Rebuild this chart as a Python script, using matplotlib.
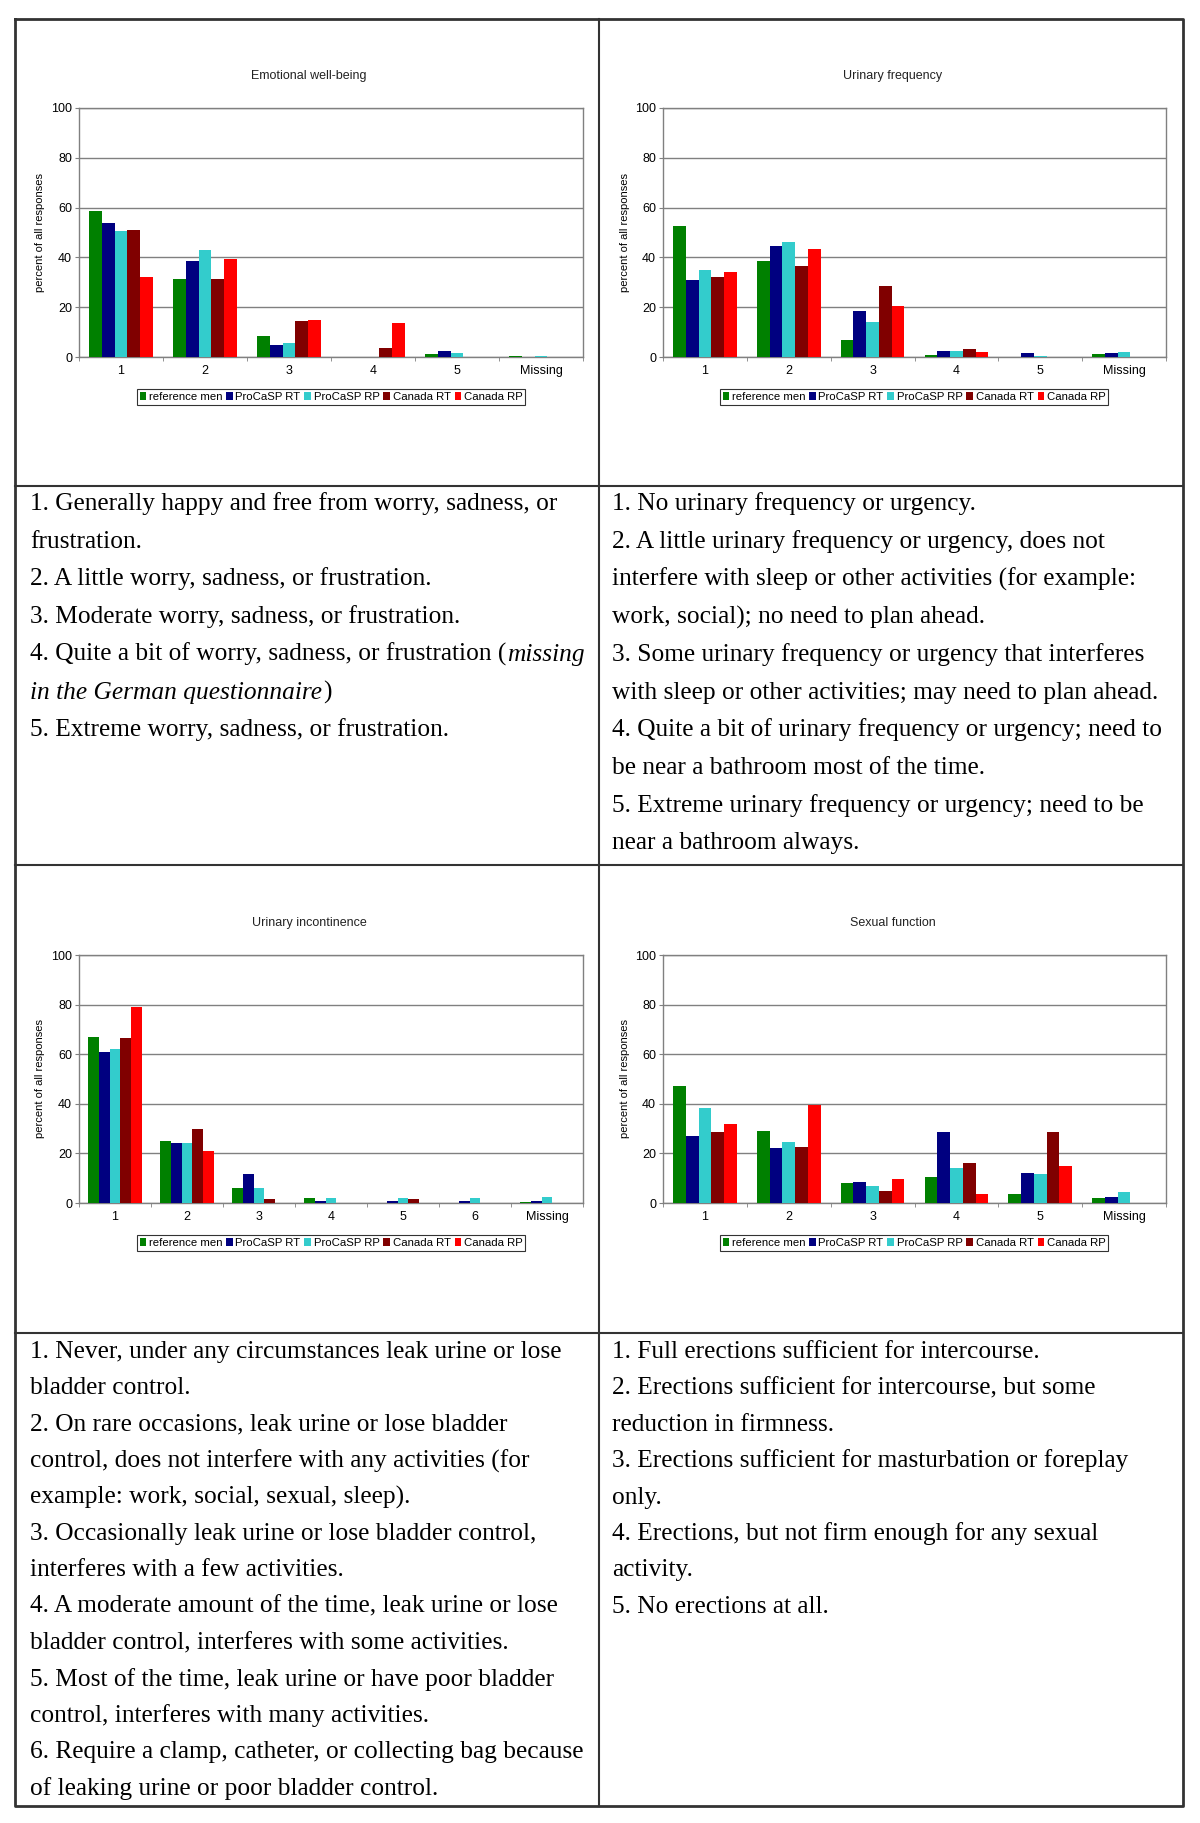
import matplotlib
matplotlib.use("Agg")
import matplotlib.pyplot as plt
import numpy as np

W, H = 1200, 1823

series = ["reference men", "ProCaSP RT", "ProCaSP RP", "Canada RT", "Canada RP"]
colors = ["#008000", "#000080", "#33CCCC", "#800000", "#FF0000"]

# Emotional well-being
emo_cats = ["1", "2", "3", "4", "5", "Missing"]
emo_ref = [58.5, 31.5, 8.5, 0, 1.2, 0.4]
emo_prt = [54, 38.5, 5, 0, 2.5, 0]
emo_prp = [50.5, 43, 5.5, 0, 1.5, 0.3]
emo_crt = [51, 31.5, 14.5, 3.5, 0, 0]
emo_crp = [32, 39.5, 15, 13.5, 0, 0]

# Urinary frequency
freq_cats = ["1", "2", "3", "4", "5", "Missing"]
freq_ref = [52.5, 38.5, 7, 0.7, 0, 1.1]
freq_prt = [31, 44.5, 18.5, 2.4, 1.7, 1.6]
freq_prp = [35, 46, 14, 2.3, 0.4, 2.2]
freq_crt = [32, 36.5, 28.5, 3.3, 0, 0]
freq_crp = [34, 43.5, 20.5, 1.9, 0, 0]

# Urinary incontinence
inc_cats = ["1", "2", "3", "4", "5", "6", "Missing"]
inc_ref = [67, 25, 6, 2, 0.2, 0, 0.3]
inc_prt = [61, 24, 11.5, 0.7, 0.7, 0.7, 0.7]
inc_prp = [62, 24, 6, 2.2, 2, 2, 2.5]
inc_crt = [66.5, 30, 1.5, 0, 1.5, 0, 0]
inc_crp = [79, 21, 0, 0, 0, 0, 0]

# Sexual function
sex_cats = ["1", "2", "3", "4", "5", "Missing"]
sex_ref = [47, 29, 8, 10.5, 3.8, 2]
sex_prt = [27, 22, 8.5, 28.5, 12, 2.5]
sex_prp = [38.5, 24.5, 7, 14, 11.5, 4.5]
sex_crt = [28.5, 22.5, 5, 16, 28.5, 0]
sex_crp = [32, 39.5, 9.5, 3.8, 15, 0]

emo_text = [
    "1. Generally happy and free from worry, sadness, or",
    "frustration.",
    "2. A little worry, sadness, or frustration.",
    "3. Moderate worry, sadness, or frustration.",
    "4. Quite a bit of worry, sadness, or frustration (",
    "",
    "5. Extreme worry, sadness, or frustration.",
]
freq_text = [
    "1. No urinary frequency or urgency.",
    "2. A little urinary frequency or urgency, does not",
    "interfere with sleep or other activities (for example:",
    "work, social); no need to plan ahead.",
    "3. Some urinary frequency or urgency that interferes",
    "with sleep or other activities; may need to plan ahead.",
    "4. Quite a bit of urinary frequency or urgency; need to",
    "be near a bathroom most of the time.",
    "5. Extreme urinary frequency or urgency; need to be",
    "near a bathroom always.",
]
inc_text = [
    "1. Never, under any circumstances leak urine or lose",
    "bladder control.",
    "2. On rare occasions, leak urine or lose bladder",
    "control, does not interfere with any activities (for",
    "example: work, social, sexual, sleep).",
    "3. Occasionally leak urine or lose bladder control,",
    "interferes with a few activities.",
    "4. A moderate amount of the time, leak urine or lose",
    "bladder control, interferes with some activities.",
    "5. Most of the time, leak urine or have poor bladder",
    "control, interferes with many activities.",
    "6. Require a clamp, catheter, or collecting bag because",
    "of leaking urine or poor bladder control.",
]
sex_text = [
    "1. Full erections sufficient for intercourse.",
    "2. Erections sufficient for intercourse, but some",
    "reduction in firmness.",
    "3. Erections sufficient for masturbation or foreplay",
    "only.",
    "4. Erections, but not firm enough for any sexual",
    "activity.",
    "5. No erections at all.",
]

fig = plt.figure(figsize=(W / 100, H / 100), dpi=100)
bg = fig.add_axes([0, 0, 1, 1])
bg.set_xlim(0, W)
bg.set_ylim(H, 0)
bg.axis("off")

# table lines
lc = "#333333"
bg.plot([15, 1183, 1183, 15, 15], [19, 19, 1806, 1806, 19], color=lc, lw=2)
bg.plot([599, 599], [19, 1806], color=lc, lw=1.5)
for yy in [486, 865, 1333]:
    bg.plot([15, 1183], [yy, yy], color=lc, lw=1.5)

cfont = "Liberation Sans"


def bar_chart(box, title, cats, data, leg_center):
    l, t, r, b = box
    ax = fig.add_axes([l / W, 1 - b / H, (r - l) / W, (b - t) / H])
    n = len(cats)
    x = np.arange(n)
    bw = 0.76 / 5
    for i, (vals, c) in enumerate(zip(data, colors)):
        ax.bar(x + (i - 2) * bw, vals, width=bw, color=c, label=series[i],
               edgecolor="none", zorder=3)
    ax.set_xlim(-0.5, n - 0.5)
    ax.set_ylim(0, 100)
    ax.set_yticks(range(0, 101, 20))
    ax.yaxis.grid(True, color="#808080", lw=1, zorder=0)
    ax.set_xticks(x)
    ax.set_xticklabels(cats, fontsize=9, family=cfont)
    ax.set_xticks(np.arange(-0.5, n, 1), minor=True)
    ax.tick_params(axis="x", which="major", length=0, pad=6)
    ax.tick_params(axis="x", which="minor", length=3, color="#808080", direction="out")
    ax.tick_params(axis="y", length=3, color="#808080", pad=2, labelsize=9)
    for lab in ax.get_yticklabels():
        lab.set_family(cfont)
    for sp in ax.spines.values():
        sp.set_color("#808080")
        sp.set_linewidth(1)
    ax.set_ylabel("percent of all responses", fontsize=8, family=cfont, labelpad=4)
    bg.text((l + r) / 2 - 22, t - 32, title, ha="center", va="center",
            fontsize=9, family=cfont, color="#222222")
    leg = ax.legend(loc="center", bbox_to_anchor=(leg_center[0] / W, 1 - leg_center[1] / H),
                    bbox_transform=fig.transFigure, ncol=5,
                    handlelength=0.6, handleheight=0.6, handletextpad=0.2,
                    columnspacing=0.35, borderpad=0.25, fancybox=False,
                    frameon=True, edgecolor="black", borderaxespad=0,
                    prop={"family": cfont, "size": 8.2})
    leg.get_frame().set_linewidth(0.8)
    return ax


bar_chart((79, 108, 583, 357), "Emotional well-being", emo_cats,
          [emo_ref, emo_prt, emo_prp, emo_crt, emo_crp], (331, 397))
bar_chart((663, 108, 1166, 357), "Urinary frequency", freq_cats,
          [freq_ref, freq_prt, freq_prp, freq_crt, freq_crp], (914, 397))
bar_chart((79, 955, 583, 1203), "Urinary incontinence", inc_cats,
          [inc_ref, inc_prt, inc_prp, inc_crt, inc_crp], (331, 1243))
bar_chart((663, 955, 1166, 1203), "Sexual function", sex_cats,
          [sex_ref, sex_prt, sex_prp, sex_crt, sex_crp], (914, 1243))

tfont = "Liberation Serif"
tsize = 18.3


def cell_text(x0, y0, lines, step):
    out = []
    for k, s in enumerate(lines):
        out.append(bg.text(x0, y0 + k * step, s, ha="left", va="baseline",
                           fontsize=tsize, family=tfont, color="black"))
    return out


top_step = 37.7
emo_objs = cell_text(30, 510, emo_text, top_step)
cell_text(612, 510, freq_text, top_step)
cell_text(30, 1358, inc_text, 36.4)
cell_text(612, 1358, sex_text, 36.4)

# italic parts of the emotional well-being item 4
renderer = fig.canvas.get_renderer()
bb = emo_objs[4].get_window_extent(renderer)
xend = bg.transData.inverted().transform((bb.x1, bb.y0))[0]
bg.text(xend + 1, 510 + 4 * top_step, "missing", ha="left", va="baseline",
        fontsize=tsize, family=tfont, style="italic")
it = bg.text(30, 510 + 5 * top_step, "in the German questionnaire", ha="left",
             va="baseline", fontsize=tsize, family=tfont, style="italic")
bb2 = it.get_window_extent(renderer)
xend2 = bg.transData.inverted().transform((bb2.x1, bb2.y0))[0]
bg.text(xend2 + 1, 510 + 5 * top_step, ")", ha="left", va="baseline",
        fontsize=tsize, family=tfont)

fig.savefig("out.png", dpi=100)
